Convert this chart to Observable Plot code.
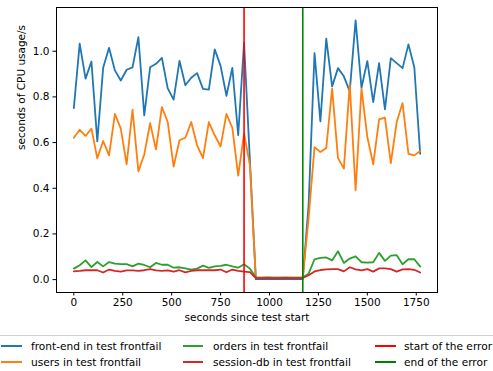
<!DOCTYPE html>
<html>
<head>
<meta charset="utf-8">
<script src="https://cdn.jsdelivr.net/npm/d3@7"></script>
<script src="https://cdn.jsdelivr.net/npm/@observablehq/plot@0.6"></script>
<style>
  body { margin: 0; background: white; font-family: "DejaVu Sans", sans-serif; }
  #wrap { position: relative; width: 493px; height: 371px; overflow: hidden; background: white; }
  #legend { position: absolute; left: -6px; top: 335px; width: 505px; height: 60px; border: 1px solid #d0d0d0; border-radius: 3px; box-sizing: border-box; }
  .item { position: absolute; font-size: 10.6px; color: #000; white-space: nowrap; line-height: 12px; }
  .swatch { position: absolute; height: 2px; }
</style>
</head>
<body>
<div id="wrap"><div id="chart"></div></div>
<script>
const seconds = [0,30,60,90,120,150,180,210,240,270,300,330,360,390,420,450,480,510,540,570,600,630,660,690,720,750,780,810,840,870,900,930,960,990,1020,1050,1080,1110,1140,1170,1200,1230,1260,1290,1320,1350,1380,1410,1440,1470,1500,1530,1560,1590,1620,1650,1680,1710,1740,1770];

const frontEnd = [0.751,1.033,0.880,0.955,0.605,0.928,1.015,0.916,0.872,0.919,0.929,1.062,0.719,0.930,0.945,0.971,0.837,0.788,0.958,0.851,0.884,0.904,0.835,0.832,1.008,0.936,0.805,0.927,0.632,1.037,0.520,0.002,0.002,0.003,0.002,0.002,0.002,0.003,0.002,0.002,0.330,0.992,0.693,1.055,0.846,0.926,0.890,0.824,1.135,0.840,0.957,0.777,0.948,0.745,0.970,0.948,0.926,1.030,0.930,0.551];

const users = [0.621,0.656,0.629,0.661,0.531,0.607,0.544,0.726,0.661,0.505,0.744,0.474,0.548,0.685,0.570,0.755,0.690,0.495,0.610,0.621,0.690,0.588,0.532,0.690,0.632,0.583,0.726,0.665,0.455,0.639,0.500,0.008,0.008,0.009,0.008,0.008,0.007,0.008,0.008,0.008,0.270,0.580,0.559,0.576,0.836,0.532,0.486,0.855,0.391,0.836,0.624,0.505,0.702,0.709,0.510,0.690,0.773,0.551,0.544,0.563];

const orders = [0.048,0.063,0.084,0.055,0.077,0.058,0.077,0.070,0.068,0.068,0.058,0.070,0.064,0.054,0.073,0.065,0.065,0.052,0.054,0.049,0.044,0.048,0.061,0.051,0.058,0.060,0.065,0.058,0.052,0.067,0.048,0.010,0.009,0.010,0.009,0.009,0.010,0.009,0.009,0.010,0.026,0.089,0.095,0.097,0.084,0.124,0.073,0.092,0.102,0.076,0.074,0.076,0.117,0.082,0.105,0.107,0.067,0.089,0.089,0.057];

const sessionDb = [0.036,0.038,0.041,0.041,0.041,0.031,0.044,0.038,0.035,0.040,0.040,0.038,0.041,0.046,0.040,0.038,0.040,0.035,0.041,0.032,0.038,0.041,0.041,0.041,0.041,0.044,0.032,0.044,0.038,0.035,0.033,0.007,0.006,0.007,0.006,0.006,0.007,0.006,0.006,0.007,0.019,0.036,0.042,0.045,0.046,0.046,0.036,0.054,0.045,0.040,0.046,0.035,0.049,0.049,0.046,0.035,0.045,0.046,0.043,0.031];

const errorStart = [870];
const errorEnd = [1170];
const xTicks = [0,250,500,750,1000,1250,1500,1750];
const yTicks = [0.0,0.2,0.4,0.6,0.8,1.0];

const seriesNames = ["front-end in test frontfail","users in test frontfail","orders in test frontfail","session-db in test frontfail"];
const seriesColors = ["#1f77b4","#ff7f0e","#2ca02c","#d62728"];
const seriesValues = [frontEnd, users, orders, sessionDb];

const lineMarks = seriesValues.map((vals, k) =>
  Plot.line(seconds.map((s, i) => ({s, v: vals[i]})), {x: "s", y: "v", stroke: seriesColors[k], strokeWidth: 1.8})
);

const chart = Plot.plot({
  width: 493,
  height: 330,
  marginLeft: 56,
  marginRight: 56,
  marginTop: 7,
  marginBottom: 38,
  style: {fontFamily: "DejaVu Sans", fontSize: "10.5px", color: "#000", background: "white", overflow: "visible"},
  x: {domain: [-88.5, 1858.5]},
  y: {domain: [-0.0565, 1.1915]},
  marks: [
    Plot.axisX({ticks: xTicks, tickSize: 3.5, tickPadding: 3, tickFormat: d => String(d), label: null, fontSize: 10.5}),
    Plot.axisY({ticks: yTicks, tickSize: 3.5, tickPadding: 3.5, tickFormat: d3.format(".1f"), label: null, fontSize: 10.5}),
    ...lineMarks,
    Plot.ruleX(errorStart, {stroke: "#ff0000", strokeWidth: 1.6}),
    Plot.ruleX(errorEnd, {stroke: "#008000", strokeWidth: 1.6}),
    Plot.frame({stroke: "#000", strokeWidth: 1}),
    Plot.text(["seconds since test start"], {frameAnchor: "bottom", dy: 28, fontSize: 10.5}),
    Plot.text(["seconds of CPU usage/s"], {frameAnchor: "left", dx: -35, rotate: -90, fontSize: 10.5})
  ]
});
document.getElementById("chart").appendChild(chart);

// legend
const wrap = document.getElementById("wrap");
const leg = document.createElement("div");
leg.id = "legend";
wrap.appendChild(leg);
const legendEntries = [
  {name: seriesNames[0], color: seriesColors[0], col: 0, row: 0},
  {name: seriesNames[1], color: seriesColors[1], col: 0, row: 1},
  {name: seriesNames[2], color: seriesColors[2], col: 1, row: 0},
  {name: seriesNames[3], color: seriesColors[3], col: 1, row: 1},
  {name: "start of the error", color: "#ff0000", col: 2, row: 0},
  {name: "end of the error", color: "#008000", col: 2, row: 1}
];
const colSwatch = [[1, 22], [183, 203], [375, 396]];
const colText = [31, 213, 404];
const rowY = [346, 362];
legendEntries.forEach(e => {
  const sw = document.createElement("div");
  sw.className = "swatch";
  sw.style.left = colSwatch[e.col][0] + "px";
  sw.style.width = (colSwatch[e.col][1] - colSwatch[e.col][0]) + "px";
  sw.style.top = (rowY[e.row] - 1) + "px";
  sw.style.background = e.color;
  wrap.appendChild(sw);
  const t = document.createElement("div");
  t.className = "item";
  t.textContent = e.name;
  t.style.left = colText[e.col] + "px";
  t.style.top = (rowY[e.row] - 6) + "px";
  wrap.appendChild(t);
});
</script>
</body>
</html>
